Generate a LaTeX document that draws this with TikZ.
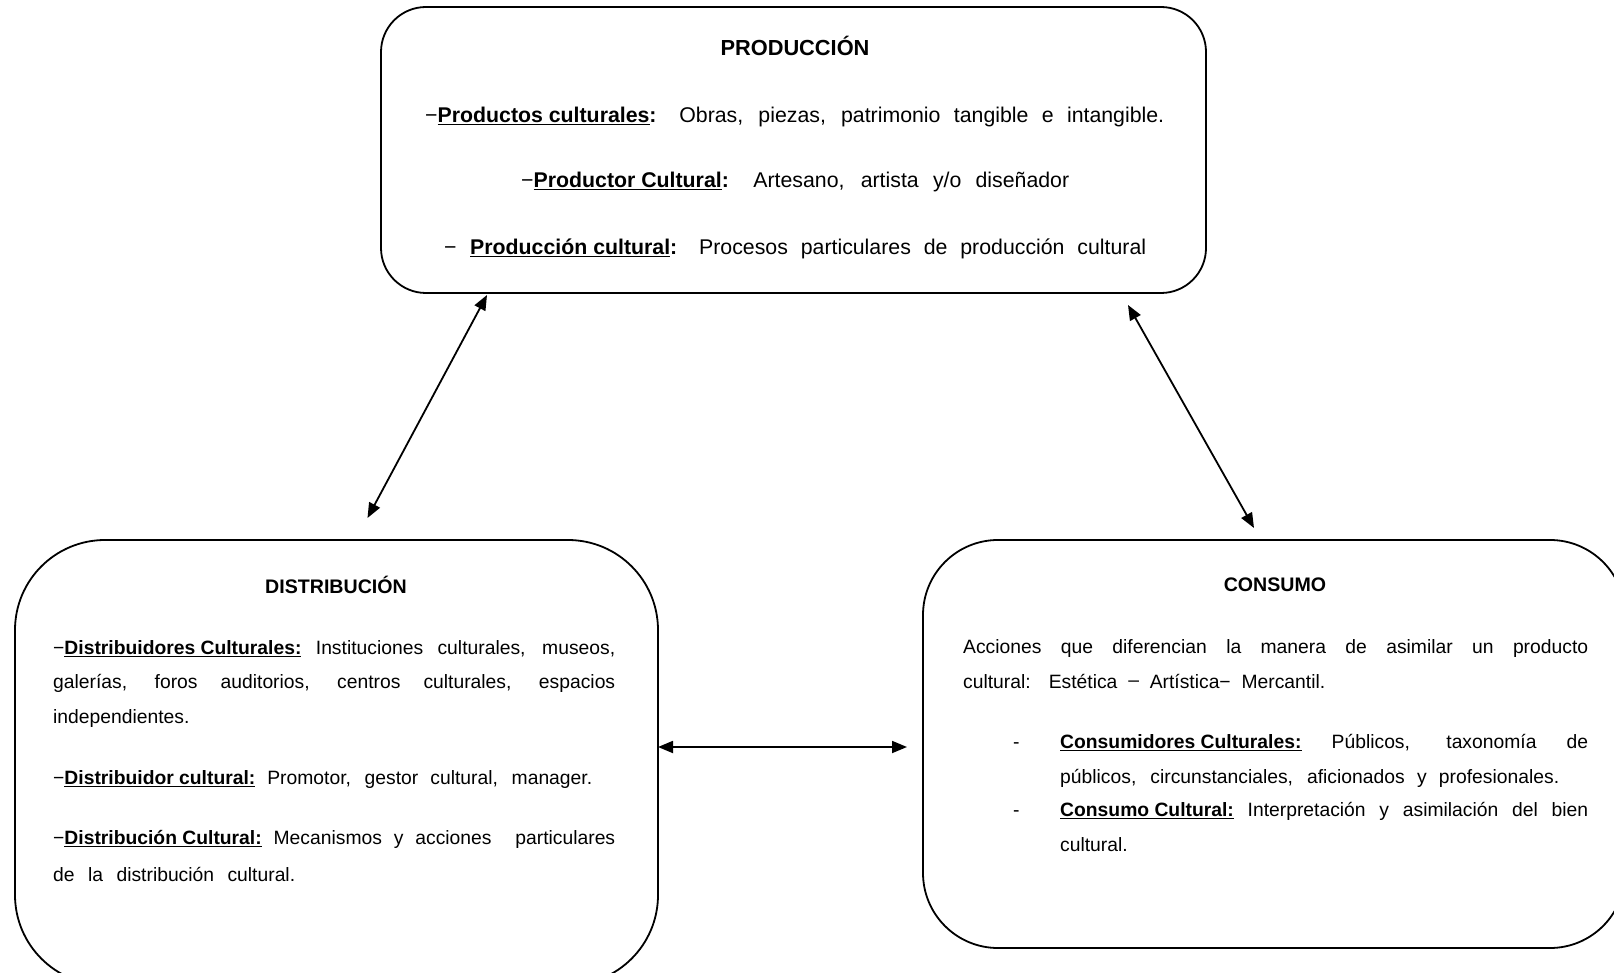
\documentclass[tikz,border=0pt]{standalone}
\usepackage{fontspec}
\setmainfont{Liberation Sans}
\usetikzlibrary{arrows.meta}
\newcommand\ulab[1]{\setbox0\hbox{#1}\rlap{\rule[-2.8pt]{\wd0}{1.5pt}}\box0}
\newcommand\mnus{\char"2212}
\begin{document}
\begin{tikzpicture}[x=1pt,y=-1pt,
  panel/.style={draw, line width=1.8pt, rounded corners=#1, inner sep=0pt},
  tline/.style={anchor=base west, inner sep=0pt, font=\fontsize{21.3}{25}\selectfont},
  bline/.style={anchor=base west, inner sep=0pt, font=\fontsize{19.3}{23}\selectfont},
  ttitle/.style={anchor=base, inner sep=0pt, font=\fontsize{21.8}{25}\selectfont\bfseries},
  btitle/.style={anchor=base, inner sep=0pt, font=\fontsize{19.6}{23}\selectfont\bfseries},
  link/.style={line width=1.8pt, {Triangle[length=15pt,width=12pt]}-{Triangle[length=15pt,width=12pt]}}]
\path[fill=white, use as bounding box] (0,0) rectangle (1614,973);

% boxes
\node[panel=45pt, minimum width=825pt, minimum height=286pt] (prod) at (793.5,150) {};
\node[panel=90pt, minimum width=643pt, minimum height=445pt] (dist) at (336.5,762.5) {};
\node[panel=75pt, minimum width=702pt, minimum height=408pt] (cons) at (1274,744) {};

% PRODUCCION
\node[ttitle] (pt) at (795,55.5) {PRODUCCIÓN};
\node[tline] (p1) at (425,122.5) {\makebox[739pt][s]{\mnus\textbf{\ulab{Productos culturales}:} Obras, piezas, patrimonio tangible e intangible.}};
\node[tline] (p2) at (521,187.5) {\makebox[548pt][s]{\mnus\textbf{\ulab{Productor Cultural}:} Artesano, artista y/o diseñador}};
\node[tline] (p3d) at (444,254.5) {\mnus};
\node[tline] (p3) at (470,254.5) {\makebox[676pt][s]{\textbf{\ulab{Producción cultural}:} Procesos particulares de producción cultural}};

% DISTRIBUCION
\node[btitle] (dt) at (336,593.5) {DISTRIBUCIÓN};
\node[bline] (d1) at (53,654.5) {\makebox[562pt][s]{\mnus\textbf{\ulab{Distribuidores Culturales:}} Instituciones culturales, museos,}};
\node[bline] (d2) at (53,688.5) {\makebox[562pt][s]{galerías, foros auditorios, centros culturales, espacios}};
\node[bline] (d3) at (53,723.5) {independientes.};
\node[bline] (d4) at (53,784.5) {\makebox[539pt][s]{\mnus\textbf{\ulab{Distribuidor cultural:}} Promotor, gestor cultural, manager.}};
\node[bline] (d5) at (53,844.5) {\makebox[562pt][s]{\mnus\textbf{\ulab{Distribución Cultural:}} Mecanismos y acciones\ \ particulares}};
\node[bline] (d6) at (53,881.5) {\makebox[242pt][s]{de la distribución cultural.}};

% CONSUMO
\node[btitle] (ct) at (1275,591.5) {CONSUMO};
\node[bline] (c1) at (963,653.5) {\makebox[625pt][s]{Acciones que diferencian la manera de asimilar un producto}};
\node[bline] (c2) at (963,688.5) {\makebox[362pt][s]{cultural: Estética \raisebox{2pt}{–} Artística\mnus\ Mercantil.}};
\node[bline] (c3d) at (1013,748.5) {-};
\node[bline] (c3) at (1060,748.5) {\makebox[528pt][s]{\textbf{\ulab{Consumidores Culturales:}} Públicos, taxonomía de}};
\node[bline] (c4) at (1060,783.5) {\makebox[499pt][s]{públicos, circunstanciales, aficionados y profesionales.}};
\node[bline] (c5d) at (1013,816.5) {-};
\node[bline] (c5) at (1060,816.5) {\makebox[528pt][s]{\textbf{\ulab{Consumo Cultural:}} Interpretación y asimilación del bien}};
\node[bline] (c6) at (1060,851.5) {cultural.};

% connectors
\coordinate (a1) at (487,295);
\coordinate (a2) at (367.5,518);
\coordinate (b1) at (1128,305);
\coordinate (b2) at (1254,528);
\coordinate (h1) at (658,747);
\coordinate (h2) at (907,747);
\draw[link] (a1) -- (a2);
\draw[link] (b1) -- (b2);
\draw[link] (h1) -- (h2);
\end{tikzpicture}
\end{document}
